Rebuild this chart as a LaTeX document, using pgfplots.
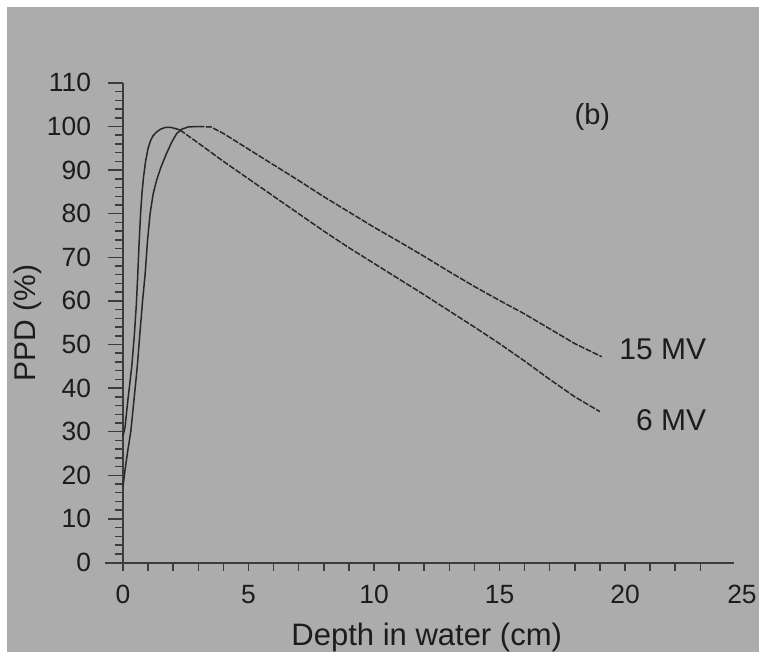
\documentclass[border=0pt]{standalone}
\usepackage{pgfplots}
\pgfplotsset{compat=1.18}
\usepackage{fontspec}
\setmainfont{Liberation Sans}
\definecolor{bg}{RGB}{172,172,172}
\definecolor{ink}{RGB}{28,28,28}
\definecolor{curve}{RGB}{40,40,40}
\definecolor{axisc}{RGB}{60,60,60}
\begin{document}
\begin{tikzpicture}
\useasboundingbox (-61.5pt,-44.75pt) rectangle (318pt,281.25pt);
\fill[white] (-61.5pt,-44.75pt) rectangle (318pt,281.25pt);
\fill[bg] (-58pt,-44.75pt) rectangle (318pt,277.75pt);
\begin{axis}[
  scale only axis, width=305.6pt, height=239.8pt,
  xmin=0, xmax=24.35, ymin=0, ymax=110,
  axis x line=bottom, axis y line=left,
  axis line style={-, draw=axisc, line width=1pt},
  clip=false,
  tick align=outside,
  major tick length=7.5pt, minor tick length=4pt,
  every tick/.style={draw=axisc, line width=0.75pt},
  xtick={0,5,10,15,20},
  minor xtick={0,1,...,23},
  major x tick style={draw=none},
  ytick={0,10,...,110},
  minor y tick num=4,
  /pgf/number format/assume math mode=true,
  tick label style={font=\fontsize{13.2}{16}\selectfont, text=ink},
  xticklabel style={anchor=base, inner sep=0pt, yshift=-12.8pt},
  yticklabel style={anchor=east, inner sep=0pt, xshift=-8.3pt},
]
% 6 MV
\addplot[curve, line width=0.75pt] coordinates {
(0,29) (0.08,31) (0.2,37.5) (0.35,45) (0.45,52) (0.53,59) (0.58,65) (0.64,73)
(0.70,80) (0.76,85) (0.82,88.5) (0.9,92) (1.0,95) (1.1,96.8) (1.2,97.9)
(1.35,98.8) (1.5,99.4) (1.7,99.8) (1.9,99.8) (2.1,99.5) (2.27,99.2)};
\addplot[curve, line width=0.75pt, dash pattern=on 3pt off 0.8pt] coordinates {
(2.27,99.2) (3.0,96.2) (4.0,92.0) (5.0,88.0) (6.0,84.0) (7.0,80.0) (8.0,76.0)
(9.0,72.2) (10.0,68.6) (11.0,65.0) (12.0,61.4) (13.0,57.7) (14.0,54.0)
(15.0,50.2) (16.0,46.2) (17.0,42.0) (18.0,38.0) (19.0,34.6)};
% 15 MV
\addplot[curve, line width=0.75pt] coordinates {
(0,17.4) (0.1,22) (0.2,26) (0.31,30) (0.45,38) (0.57,45) (0.68,53) (0.78,60)
(0.88,66) (0.98,74) (1.08,80) (1.2,84.5) (1.34,87.7) (1.5,90.5) (1.74,93.9)
(1.95,96.5) (2.14,98.4) (2.35,99.4) (2.6,99.9) (3.0,100)};
\addplot[curve, line width=0.75pt, dash pattern=on 3pt off 0.8pt] coordinates {
(3.0,100) (3.5,99.9) (4.0,98.4) (5.0,94.8) (6.0,91.2) (7.0,87.6) (8.0,83.9)
(9.0,80.4) (10.0,76.9) (11.0,73.6) (12.0,70.2) (13.0,66.7) (14.0,63.3)
(15.0,60.1) (16.0,57.0) (17.0,53.6) (18.0,50.2) (19.07,47.2)};
% x-axis stub left of the y axis
\draw[axisc, line width=1pt] (axis cs:-0.72,0) -- (axis cs:0,0);
% 25 label beyond the axis end
\node[anchor=base, inner sep=0pt, font=\fontsize{13.2}{16}\selectfont, text=ink]
  at (axis cs:24.66,0) [yshift=-20.3pt] {25};
% annotations
\node[font=\fontsize{14.5}{17}\selectfont, text=ink] at (axis cs:18.7,102.1) {(b)};
\node[anchor=east, inner sep=0pt, font=\fontsize{15}{18}\selectfont, text=ink] at (axis cs:23.25,49.0) {15 MV};
\node[anchor=east, inner sep=0pt, font=\fontsize{15}{18}\selectfont, text=ink] at (axis cs:23.25,32.7) {6 MV};
% axis labels
\node[rotate=90, font=\fontsize{15}{18}\selectfont, text=ink] at (axis cs:-3.78,55) {PPD (\%)};
\node[anchor=base, font=\fontsize{15.5}{18}\selectfont, text=ink] at (axis cs:12.1,-19.15) {Depth in water (cm)};
\end{axis}
\end{tikzpicture}
\end{document}
